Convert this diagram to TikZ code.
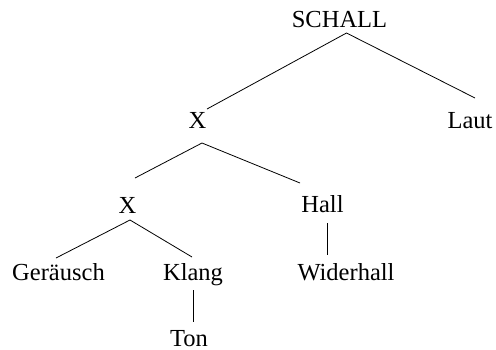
\documentclass[tikz,border=0pt]{standalone}
\usepackage{fontspec}
\setmainfont{Liberation Serif}
\begin{document}
\begin{tikzpicture}[x=1pt,y=-1pt,
  lbl/.style={anchor=base,inner sep=0pt,font=\fontsize{24.5}{29}\selectfont},
  edge/.style={line width=0.8pt,black}]
\useasboundingbox (0,0) rectangle (496,349);
\node[lbl] (S) at (339.5,27) {SCHALL};
\node[lbl] (X1) at (197.5,128) {X};
\node[lbl] (L) at (470,128) {Laut};
\node[lbl] (X2) at (127.5,213) {X};
\node[lbl] (H) at (322.5,212) {Hall};
\node[lbl] (G) at (58.5,280) {Geräusch};
\node[lbl] (K) at (193,280) {Klang};
\node[lbl] (W) at (346,280) {Widerhall};
\node[lbl] (T) at (189,346) {Ton};
\draw[edge] ([shift={(9.5,-19)}]X1.base) -- ([shift={(7,6)}]S.base) -- ([shift={(5,-30)}]L.base);
\draw[edge] ([shift={(7.5,-35)}]X2.base) -- ([shift={(4.5,15)}]X1.base) -- ([shift={(-22.5,-29)}]H.base);
\draw[edge] ([shift={(-2.5,-22)}]G.base) -- ([shift={(2.5,7)}]X2.base) -- ([shift={(-1,-23)}]K.base);
\draw[edge] ([shift={(0,10)}]K.base) -- ([shift={(4,-24)}]T.base);
\draw[edge] ([shift={(4.5,11)}]H.base) -- ([shift={(-19,-25)}]W.base);
\end{tikzpicture}
\end{document}
